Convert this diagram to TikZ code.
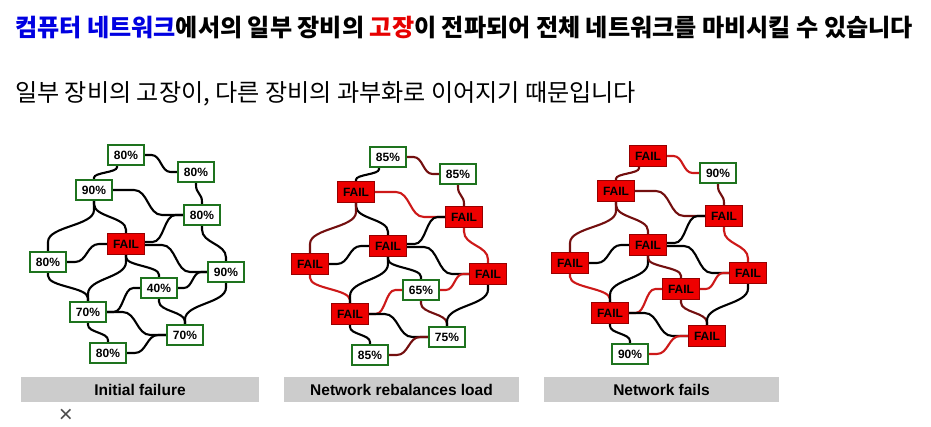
\documentclass[tikz,border=0pt]{standalone}
\usepackage{fontspec}
\setmainfont{Liberation Sans}
\newfontfamily\kr{Noto Sans CJK KR}
\usepackage{tikz}
\usetikzlibrary{calc}         % pour les let des fils
\pgfdeclarelayer{background}
\pgfsetlayers{background,main}
\definecolor{bleutitre}{RGB}{0,0,225}
\definecolor{rougetitre}{RGB}{230,0,0}
\definecolor{vertok}{RGB}{30,115,30}
\definecolor{rougepanne}{RGB}{238,0,0}
\definecolor{bordpanne}{RGB}{150,0,0}
\definecolor{filsombre}{RGB}{115,15,15}
\definecolor{filrouge}{RGB}{205,25,25}
\definecolor{grisbarre}{RGB}{204,204,204}
\tikzset{
  okbox/.style={draw=vertok,line width=2pt,fill=white,minimum width=36pt,minimum height=20pt,
    inner sep=0pt,font=\fontsize{12}{14}\selectfont\bfseries},
  failbox/.style={draw=bordpanne,line width=1pt,fill=rougepanne,minimum width=37pt,minimum height=21pt,
    inner sep=0pt,font=\fontsize{12}{14}\selectfont\bfseries},
  wire/.style={line width=2.1pt,line cap=round,black},
  dk/.style={wire,filsombre},
  rd/.style={wire,filrouge},
  hwire/.style={to path={let \p1=(\tikztostart),\p2=(\tikztotarget),
      \n1={(\x1+\x2)/2},\n2={sign(\x2-\x1)*min(14,0.3*abs(\x2-\x1))} in
      -- ({\n1-(\n2)},\y1) .. controls (\n1,\y1) and (\n1,\y2) .. ({\n1+\n2},\y2) -- (\tikztotarget)}},
  vwire/.style={to path={let \p1=(\tikztostart),\p2=(\tikztotarget),
      \n1={(\y1+\y2)/2},\n2={sign(\y2-\y1)*min(16,0.4*abs(\y2-\y1))} in
      -- (\x1,{\n1-(\n2)}) .. controls (\x1,\n1) and (\x2,\n1) .. (\x2,{\n1+\n2}) -- (\tikztotarget)}},
  bar/.style={fill=grisbarre,minimum width=238pt,minimum height=25pt,inner sep=0pt,
    font=\fontsize{15.5}{18}\selectfont\bfseries}
}

\begin{document}
\begin{tikzpicture}[x=1pt,y=-1pt]
\useasboundingbox (0,0) rectangle (931,427);
\node[anchor=base west,inner sep=0pt,font=\kr\fontsize{24.1}{28}\selectfont\bfseries] (titre) at (15,37)
  {\textcolor{bleutitre}{컴퓨터 네트워크}에서의 일부 장비의 \textcolor{rougetitre}{고장}이 전파되어 전체 네트워크를 마비시킬 수 있습니다};
\node[anchor=base west,inner sep=0pt,font=\kr\fontsize{24.1}{28}\selectfont] (sous) at (15,102)
  {일부 장비의 고장이, 다른 장비의 과부화로 이어지기 때문입니다};

\begin{scope}
\node[okbox] (a1) at (126,155) {80\%};
\node[okbox] (b1) at (196,172) {80\%};
\node[okbox] (c1) at (94,190) {90\%};
\node[okbox] (d1) at (202,215) {80\%};
\node[failbox] (e1) at (126,244) {FAIL};
\node[okbox] (f1) at (48,262) {80\%};
\node[okbox] (g1) at (226,272) {90\%};
\node[okbox] (h1) at (159,288) {40\%};
\node[okbox] (i1) at (88,312) {70\%};
\node[okbox] (j1) at (185,335) {70\%};
\node[okbox] (k1) at (108,353) {80\%};
\begin{pgfonlayer}{background}
\draw[wire,vwire] ([xshift=-9pt]a1.south) to (c1.north);
\draw[wire,hwire] (a1.east) to (b1.west);
\draw[wire,vwire] (b1.south) to (d1.north);
\draw[wire,hwire] (c1.east) to (d1.west);
\draw[wire,vwire] (c1.south) to (e1.north);
\draw[wire,vwire] (c1.south) to (f1.north);
\draw[wire,hwire] ([yshift=2pt]e1.east) to (d1.west);
\draw[wire,hwire] ([yshift=-1pt]e1.east) to (g1.west);
\draw[wire,vwire] (d1.south) to (g1.north);
\draw[wire,hwire] (e1.west) to (f1.east);
\draw[wire,vwire] (f1.south) to (i1.north);
\draw[wire,vwire] (e1.south) to (i1.north);
\draw[wire,vwire] (e1.south) to (h1.north);
\draw[wire,hwire] (h1.west) to (i1.east);
\draw[wire,hwire] (h1.east) to (g1.west);
\draw[wire,vwire] (h1.south) to (j1.north);
\draw[wire,vwire] (g1.south) to (j1.north);
\draw[wire,hwire] (i1.east) to (j1.west);
\draw[wire,vwire] (i1.south) to (k1.north);
\draw[wire,hwire] (k1.east) to (j1.west);
\end{pgfonlayer}
\node[bar] (l1) at (140,389.5) {Initial failure};
\end{scope}

\begin{scope}[shift={(262,2)}]
\node[okbox] (a2) at (126,155) {85\%};
\node[okbox] (b2) at (196,172) {85\%};
\node[failbox] (c2) at (94,190) {FAIL};
\node[failbox] (d2) at (202,215) {FAIL};
\node[failbox] (e2) at (126,244) {FAIL};
\node[failbox] (f2) at (48,262) {FAIL};
\node[failbox] (g2) at (226,272) {FAIL};
\node[okbox] (h2) at (159,288) {65\%};
\node[failbox] (i2) at (88,312) {FAIL};
\node[okbox] (j2) at (185,335) {75\%};
\node[okbox] (k2) at (108,353) {85\%};
\begin{pgfonlayer}{background}
\draw[wire,vwire] ([xshift=-9pt]a2.south) to (c2.north);
\draw[dk,hwire] (a2.east) to (b2.west);
\draw[dk,vwire] (b2.south) to (d2.north);
\draw[rd,hwire] (c2.east) to (d2.west);
\draw[wire,vwire] (c2.south) to (e2.north);
\draw[dk,vwire] (c2.south) to (f2.north);
\draw[wire,hwire] ([yshift=2pt]e2.east) to (d2.west);
\draw[wire,hwire] ([yshift=-1pt]e2.east) to (g2.west);
\draw[rd,vwire] (d2.south) to (g2.north);
\draw[wire,hwire] (e2.west) to (f2.east);
\draw[rd,vwire] (f2.south) to (i2.north);
\draw[wire,vwire] (e2.south) to (i2.north);
\draw[wire,vwire] (e2.south) to (h2.north);
\draw[rd,hwire] (h2.west) to (i2.east);
\draw[rd,hwire] (h2.east) to (g2.west);
\draw[dk,vwire] (h2.south) to (j2.north);
\draw[wire,vwire] (g2.south) to (j2.north);
\draw[wire,hwire] (i2.east) to (j2.west);
\draw[wire,vwire] (i2.south) to (k2.north);
\draw[dk,hwire] (k2.east) to (j2.west);
\end{pgfonlayer}
\node[bar,minimum width=235pt] (l2) at (139.5,387.5) {Network rebalances load};
\end{scope}

\begin{scope}[shift={(522,1)}]
\node[failbox] (a3) at (126,155) {FAIL};
\node[okbox] (b3) at (196,172) {90\%};
\node[failbox] (c3) at (94,190) {FAIL};
\node[failbox] (d3) at (202,215) {FAIL};
\node[failbox] (e3) at (126,244) {FAIL};
\node[failbox] (f3) at (48,262) {FAIL};
\node[failbox] (g3) at (226,272) {FAIL};
\node[failbox] (h3) at (159,288) {FAIL};
\node[failbox] (i3) at (88,312) {FAIL};
\node[failbox] (j3) at (185,335) {FAIL};
\node[okbox] (k3) at (108,353) {90\%};
\begin{pgfonlayer}{background}
\draw[dk,vwire] ([xshift=-9pt]a3.south) to (c3.north);
\draw[rd,hwire] (a3.east) to (b3.west);
\draw[dk,vwire] (b3.south) to (d3.north);
\draw[dk,hwire] (c3.east) to (d3.west);
\draw[dk,vwire] (c3.south) to (e3.north);
\draw[dk,vwire] (c3.south) to (f3.north);
\draw[wire,hwire] ([yshift=2pt]e3.east) to (d3.west);
\draw[wire,hwire] ([yshift=-1pt]e3.east) to (g3.west);
\draw[rd,vwire] (d3.south) to (g3.north);
\draw[wire,hwire] (e3.west) to (f3.east);
\draw[rd,vwire] (f3.south) to (i3.north);
\draw[wire,vwire] (e3.south) to (i3.north);
\draw[dk,vwire] (e3.south) to (h3.north);
\draw[rd,hwire] (h3.west) to (i3.east);
\draw[rd,hwire] (h3.east) to (g3.west);
\draw[dk,vwire] (h3.south) to (j3.north);
\draw[wire,vwire] (g3.south) to (j3.north);
\draw[wire,hwire] (i3.east) to (j3.west);
\draw[wire,vwire] (i3.south) to (k3.north);
\draw[rd,hwire] (k3.east) to (j3.west);
\end{pgfonlayer}
\node[bar,minimum width=235pt] (l3) at (139.5,388.5) {Network fails};
\end{scope}

\node[text=black!70,inner sep=0pt,font=\fontsize{24}{24}\selectfont] (croix) at (66,416) {×};
\end{tikzpicture}
\end{document}
